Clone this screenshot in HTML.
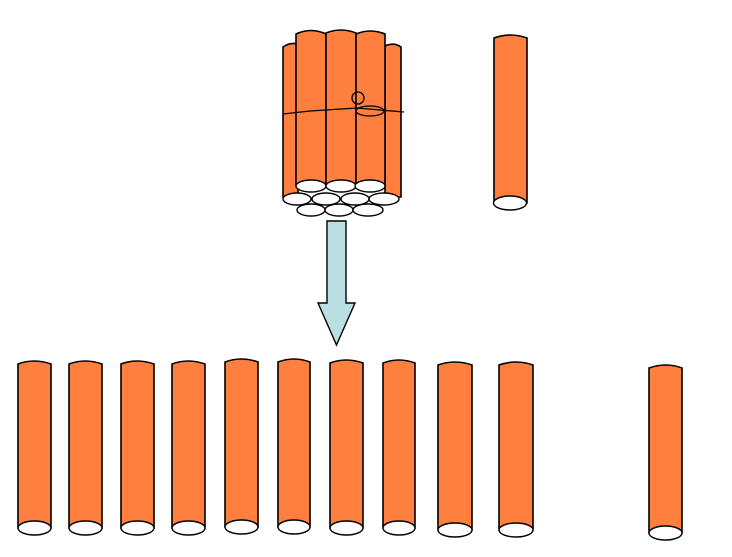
<!DOCTYPE html>
<html><head><meta charset="utf-8"><style>html,body{margin:0;padding:0;background:#fff}svg{display:block}</style></head>
<body>
<svg width="732" height="557" viewBox="0 0 732 557" xmlns="http://www.w3.org/2000/svg">
<defs>
<g id="c"><!-- generic cylinder width 33, height 0..166 -->
</g>
</defs>
<g stroke="#000" stroke-width="1.6" fill="#FF7F3F">
<!-- bundle back cylinders -->
<path d="M283 47 Q290 42 298 44 L298 197 L283 197 Z"/>
<path d="M385 46 Q394 42 401 47 L401 197 L385 197 Z"/>
<!-- bundle front cylinders -->
<path d="M296 34 Q311 27 326 34 L326 186 L296 186 Z"/>
<path d="M326 33 Q341 27 356 33 L356 186 L326 186 Z"/>
<path d="M356 34 Q370 28 385 34 L385 186 L356 186 Z"/>
<!-- top right single -->
<path d="M494 38 Q510 32 527 38 L527 203 L494 203 Z"/>
<!-- bottom row -->
<path d="M18 364 Q34 358 51 364 L51 528 L18 528 Z"/>
<path d="M69 364 Q85 358 102 364 L102 528 L69 528 Z"/>
<path d="M121 364 Q137 358 154 364 L154 528 L121 528 Z"/>
<path d="M172 364 Q188 358 205 364 L205 528 L172 528 Z"/>
<path d="M225 362 Q241 356 258 362 L258 527 L225 527 Z"/>
<path d="M278 362 Q294 356 310 362 L310 527 L278 527 Z"/>
<path d="M330 363 Q346 357 363 363 L363 528 L330 528 Z"/>
<path d="M383 363 Q399 357 415 363 L415 528 L383 528 Z"/>
<path d="M438 365 Q455 359 472 365 L472 530 L438 530 Z"/>
<path d="M499 365 Q516 359 533 365 L533 530 L499 530 Z"/>
<path d="M649 368 Q666 362 682 368 L682 533 L649 533 Z"/>
</g>
<g stroke="#000" stroke-width="1.4" fill="#fff">
<ellipse cx="311" cy="186" rx="15" ry="6"/>
<ellipse cx="341" cy="186" rx="15" ry="6"/>
<ellipse cx="370" cy="186" rx="15" ry="6"/>
<ellipse cx="297" cy="199" rx="14" ry="6"/>
<ellipse cx="326" cy="199" rx="14" ry="6"/>
<ellipse cx="355" cy="199" rx="14" ry="6"/>
<ellipse cx="384" cy="199" rx="15" ry="6"/>
<ellipse cx="311" cy="210" rx="14" ry="6"/>
<ellipse cx="339" cy="210" rx="14" ry="6"/>
<ellipse cx="368" cy="210" rx="15" ry="6"/>
<ellipse cx="510" cy="203" rx="16.5" ry="7"/>
<ellipse cx="34.5" cy="528" rx="16.5" ry="7"/>
<ellipse cx="85.5" cy="528" rx="16.5" ry="7"/>
<ellipse cx="137.5" cy="528" rx="16.5" ry="7"/>
<ellipse cx="188.5" cy="528" rx="16.5" ry="7"/>
<ellipse cx="241.5" cy="527" rx="16.5" ry="7"/>
<ellipse cx="294" cy="527" rx="16" ry="7"/>
<ellipse cx="346.5" cy="528" rx="16.5" ry="7"/>
<ellipse cx="399" cy="528" rx="16" ry="7"/>
<ellipse cx="455" cy="530" rx="17" ry="7"/>
<ellipse cx="516" cy="530" rx="17" ry="7"/>
<ellipse cx="665.5" cy="533" rx="16.5" ry="7"/>
</g>
<g stroke="#000" stroke-width="1.3" fill="none">
<path d="M283 114 L310 111 L357 108 L404 112"/>
<circle cx="358" cy="98" r="6"/>
<ellipse cx="370" cy="111" rx="14" ry="5"/>
</g>
<path d="M327 221 L346 221 L346 303 L355 303 L336.5 345 L318 303 L327 303 Z" fill="#B9DFE3" stroke="#000" stroke-width="1.4"/>
</svg>
</body></html>
